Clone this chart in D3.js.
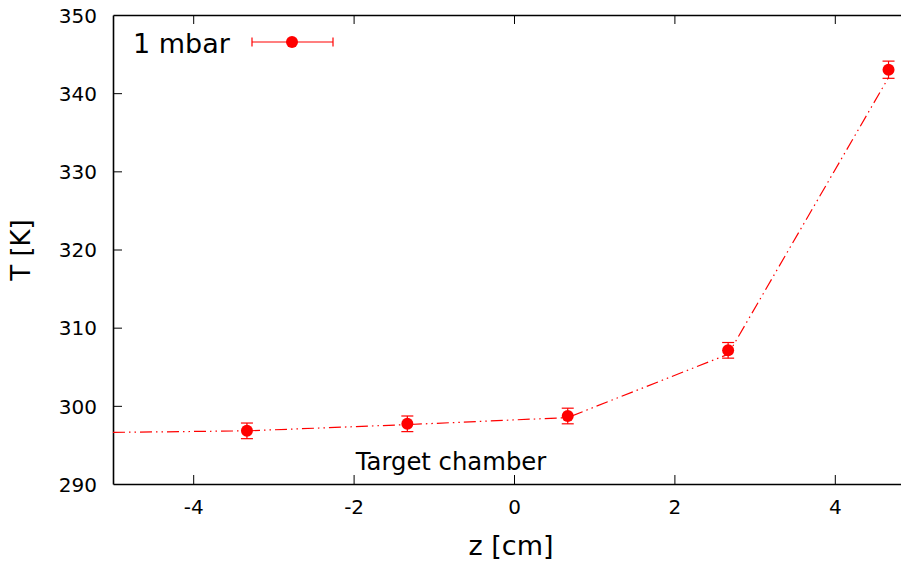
<!DOCTYPE html>
<html>
<head>
<meta charset="utf-8">
<script src="https://cdn.jsdelivr.net/npm/d3@7"></script>
<style>
  html, body { margin: 0; padding: 0; background: #fff; }
  svg { display: block; font-family: "DejaVu Sans", sans-serif; }
</style>
</head>
<body>
<svg id="chart" width="901" height="562"></svg>
<script>
// ---- data ----
const zValues = [-3.33, -1.33, 0.67, 2.67, 4.67];
const tValues = [296.8, 297.7, 298.7, 307.1, 343.0];
const tErrors = [1.0, 1.0, 1.0, 1.0, 1.1];
const lineZ = [-5, -3.33, -1.33, 0.67, 2.67, 4.67];
const lineT = [296.6, 296.8, 297.6, 298.5, 306.6, 342.0];
const xTicks = [-4, -2, 0, 2, 4];
const yTicks = [290, 300, 310, 320, 330, 340, 350];
const seriesName = "1 mbar";
const annotation = "Target chamber";

(function () {
const svg = d3.select("#chart");
const mLeft = 113, mRight = 915, mTop = 15, mBottom = 484;
const x = d3.scaleLinear().domain([-5, 5]).range([mLeft, mRight]);
const y = d3.scaleLinear().domain([290, 350]).range([mBottom, mTop]);
const red = "#ff0000";
const fmt = d => String(d);

// axes
const xAxis = svg.append("g").attr("transform", `translate(0,${mBottom})`)
  .call(d3.axisBottom(x).tickValues(xTicks).tickSizeInner(-9).tickSizeOuter(0).tickPadding(16).tickFormat(fmt));
const xTop = svg.append("g").attr("transform", `translate(0,${mTop})`)
  .call(d3.axisTop(x).tickValues(xTicks).tickSizeInner(-9).tickSizeOuter(0).tickFormat(""));
const yAxis = svg.append("g").attr("transform", `translate(${mLeft},0)`)
  .call(d3.axisLeft(y).tickValues(yTicks).tickSizeInner(-9).tickSizeOuter(0).tickPadding(16).tickFormat(fmt));

[xAxis, xTop, yAxis].forEach(g => {
  g.select(".domain").attr("stroke", "#000").attr("stroke-width", 1.6);
  g.selectAll(".tick line").attr("stroke", "#000").attr("stroke-width", 1);
  g.selectAll(".tick text").attr("font-size", 20).attr("fill", "#000")
    .attr("font-family", "DejaVu Sans, sans-serif");
});
yAxis.selectAll(".tick text").attr("dy", "0.36em");
xAxis.selectAll(".tick text").attr("dy", "0.71em");
yAxis.selectAll(".tick line").filter(d => d === 290 || d === 350).remove();

// axis labels
svg.append("text").attr("x", 511).attr("y", 555).attr("text-anchor", "middle")
  .attr("font-size", 27).text("z [cm]");
svg.append("text").attr("transform", "translate(30,250) rotate(-90)")
  .attr("text-anchor", "middle").attr("font-size", 26).text("T [K]");

// line
const plot = svg.append("g");
plot.append("path")
  .datum(lineZ.map((z, i) => [z, lineT[i]]))
  .attr("fill", "none").attr("stroke", red).attr("stroke-width", 1.2)
  .attr("stroke-dasharray", "12,4,1.5,4,1.5,4")
  .attr("d", d3.line().x(d => x(d[0])).y(d => y(d[1])));

// error bars
const pts = zValues.map((z, i) => ({ z, t: tValues[i], e: tErrors[i] }));
const eb = plot.selectAll(".eb").data(pts).join("g").attr("class", "eb")
  .attr("stroke", red).attr("stroke-width", 1.2);
eb.append("line").attr("x1", d => x(d.z)).attr("x2", d => x(d.z))
  .attr("y1", d => y(d.t - d.e)).attr("y2", d => y(d.t + d.e));
eb.append("line").attr("x1", d => x(d.z) - 6).attr("x2", d => x(d.z) + 6)
  .attr("y1", d => y(d.t - d.e)).attr("y2", d => y(d.t - d.e));
eb.append("line").attr("x1", d => x(d.z) - 6).attr("x2", d => x(d.z) + 6)
  .attr("y1", d => y(d.t + d.e)).attr("y2", d => y(d.t + d.e));
plot.selectAll(".pt").data(pts).join("circle").attr("class", "pt")
  .attr("cx", d => x(d.z)).attr("cy", d => y(d.t)).attr("r", 6).attr("fill", red);

// annotation
svg.append("text").attr("x", 451).attr("y", 470).attr("text-anchor", "middle")
  .attr("font-size", 24.3).text(annotation);

// legend
const lg = svg.append("g");
lg.append("text").attr("x", 133).attr("y", 53).attr("font-size", 27).text(seriesName);
lg.append("line").attr("x1", 252).attr("x2", 333).attr("y1", 42).attr("y2", 42)
  .attr("stroke", red).attr("stroke-width", 1.2);
[252, 333].forEach(xx => lg.append("line").attr("x1", xx).attr("x2", xx)
  .attr("y1", 37.5).attr("y2", 46.5).attr("stroke", red).attr("stroke-width", 1.2));
lg.append("circle").attr("cx", 292).attr("cy", 42).attr("r", 6).attr("fill", red);
})();
</script>
</body>
</html>
